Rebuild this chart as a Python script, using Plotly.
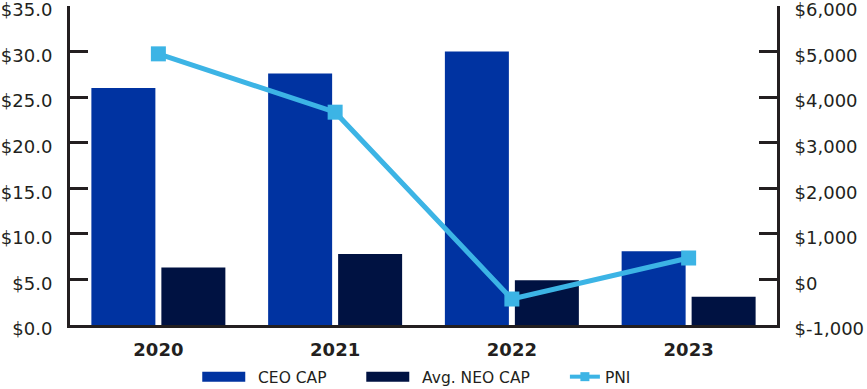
import plotly.graph_objects as go

years = ["2020", "2021", "2022", "2023"]
ceo_cap = [26.0, 27.6, 30.0, 8.1]
neo_cap = [6.3, 7.8, 4.9, 3.1]
pni = [4950, 3670, -430, 470]

left_ticks = [0, 5, 10, 15, 20, 25, 30, 35]
left_text = ["$0.0", "$5.0", "$10.0", "$15.0", "$20.0", "$25.0", "$30.0", "$35.0"]
right_ticks = [-1000, 0, 1000, 2000, 3000, 4000, 5000, 6000]
right_text = ["$-1,000", "$0", "$1,000", "$2,000", "$3,000", "$4,000", "$5,000", "$6,000"]

C_CEO = "#0033A1"
C_NEO = "#001242"
C_PNI = "#3CB4E5"
INK = "#231F20"
FONT = "DejaVu Sans"

fig = go.Figure()
fig.add_trace(go.Bar(x=years, y=ceo_cap, name="CEO CAP", marker_color=C_CEO,
                     marker_line_width=0, showlegend=False))
fig.add_trace(go.Bar(x=years, y=neo_cap, name="Avg. NEO CAP", marker_color=C_NEO,
                     marker_line_width=0, showlegend=False))
fig.add_trace(go.Scatter(x=years, y=pni, name="PNI", yaxis="y2", mode="lines+markers",
                         line=dict(color=C_PNI, width=5),
                         marker=dict(symbol="square", size=15, color=C_PNI),
                         showlegend=False))
# legend entries
fig.add_trace(go.Scatter(x=[None], y=[None], name="\u2002CEO CAP", mode="lines",
                         line=dict(color=C_CEO, width=13), legend="legend"))
fig.add_trace(go.Scatter(x=[None], y=[None], name="\u2002Avg. NEO CAP", mode="lines",
                         line=dict(color=C_NEO, width=13), legend="legend2"))
fig.add_trace(go.Scatter(x=[None], y=[None], name="PNI", mode="lines+markers",
                         line=dict(color=C_PNI, width=4),
                         marker=dict(symbol="square", size=9, color=C_PNI),
                         legend="legend3"))

axis_common = dict(showgrid=False, zeroline=False, showline=True, linecolor=INK,
                   linewidth=3, ticks="inside", ticklen=18, tickwidth=3, tickcolor=INK,
                   tickfont=dict(family=FONT, size=18, color=INK), automargin=False,
                   ticklabeloverflow="allow")

legend_common = dict(orientation="h", xanchor="left", y=-0.11, yanchor="top",
                     font=dict(family=FONT, size=15.5, color=INK),
                     bgcolor="rgba(0,0,0,0)")

fig.update_layout(
    width=867, height=389,
    margin=dict(l=70, r=90, t=6, b=64, autoexpand=False),
    paper_bgcolor="white", plot_bgcolor="white",
    barmode="group", bargap=0.208, bargroupgap=0.0857,
    xaxis=dict(showgrid=False, zeroline=False, showline=True, linecolor=INK, linewidth=3,
               ticks="", tickfont=dict(family=FONT, size=18, color=INK, weight="bold"),
               ticklabelstandoff=6, automargin=False),
    yaxis=dict(range=[0, 35], tickvals=left_ticks, ticktext=left_text,
               ticklabelstandoff=11, ticklabelshift=4, **axis_common),
    yaxis2=dict(range=[-1000, 6000], tickvals=right_ticks, ticktext=right_text,
                overlaying="y", side="right", ticklabelstandoff=11, ticklabelshift=4,
                **axis_common),
    legend=dict(x=0.18, itemwidth=43, **legend_common),
    legend2=dict(x=0.412, itemwidth=43, **legend_common),
    legend3=dict(x=0.70, itemwidth=30, **legend_common),
)

fig.write_html("out.html", config={"displayModeBar": False},
               post_script="document.body.style.margin='0';document.body.style.overflow='hidden';")
